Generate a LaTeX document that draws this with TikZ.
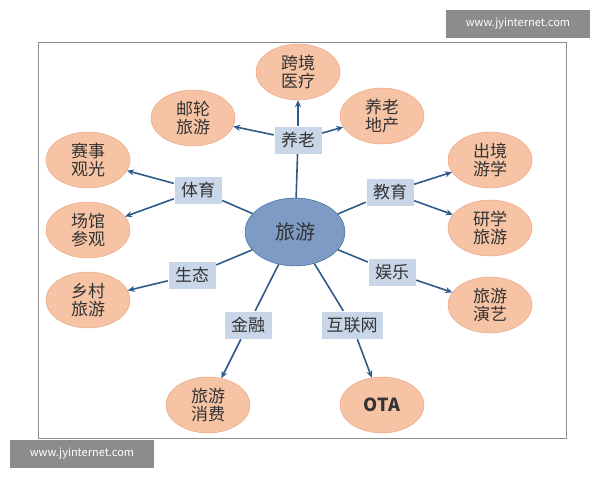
\documentclass[tikz,border=0pt]{standalone}
\usepackage{fontspec}
\setmainfont{Noto Sans CJK SC}
\usetikzlibrary{arrows.meta,shapes.geometric}
\definecolor{lineblue}{HTML}{2E5C8A}
\definecolor{leaffill}{HTML}{F6C3A4}
\definecolor{leafdraw}{HTML}{E8A07C}
\definecolor{catfill}{HTML}{C8D6E8}
\definecolor{hubfill}{HTML}{7E9BC6}
\tikzset{
 leaf/.style={ellipse,draw=leafdraw,fill=leaffill,minimum width=84pt,minimum height=56pt,inner sep=0pt,font=\fontsize{17}{18}\selectfont,align=center,text=black!80},
 cat/.style={draw=white,fill=catfill,minimum width=48pt,minimum height=28pt,inner sep=2pt,font=\fontsize{17}{18}\selectfont,text=black!80},
 link/.style={draw=lineblue,line width=1.6pt},
 arr/.style={link,-{Stealth[length=7pt,width=6pt]}},
 wm/.style={fill=black!45,text=white,minimum width=144pt,minimum height=28pt,font=\fontsize{11}{13}\selectfont}
}
\begin{document}
\begin{tikzpicture}[x=1pt,y=-1pt]
\useasboundingbox (0,0) rectangle (600,480);
\fill[white] (0,0) rectangle (600,480);
\draw[black!45,line width=1pt] (38,42) rectangle (566,438);
\node[wm] (w1) at (518,24) {www.jyinternet.com};
\node[wm] (w2) at (82,454) {www.jyinternet.com};
\node[ellipse,draw=lineblue,fill=hubfill,minimum width=100pt,minimum height=68pt,font=\fontsize{20}{22}\selectfont,text=black!80] (hub) at (295,232) {旅游};
\node[cat] (yl) at (298,140) {养老};
\node[cat] (ty) at (198,190) {体育};
\node[cat] (jy) at (390,192) {教育};
\node[cat] (st) at (192,275) {生态};
\node[cat] (yy) at (392,272) {娱乐};
\node[cat] (jr) at (248,325) {金融};
\node[cat,minimum width=62pt] (hl) at (352,325) {互联网};
\node[leaf] (a1) at (298,72) {跨境\\医疗};
\node[leaf] (a2) at (193,118) {邮轮\\旅游};
\node[leaf] (a3) at (382,116) {养老\\地产};
\node[leaf] (b1) at (88,160) {赛事\\观光};
\node[leaf] (b2) at (88,230) {场馆\\参观};
\node[leaf] (c1) at (490,160) {出境\\游学};
\node[leaf] (c2) at (490,228) {研学\\旅游};
\node[leaf] (d1) at (88,300) {乡村\\旅游};
\node[leaf] (e1) at (490,305) {旅游\\演艺};
\node[leaf] (f1) at (208,405) {旅游\\消费};
\node[leaf,font=\fontsize{18}{20}\selectfont\bfseries] (g1) at (382,405) {OTA};
\foreach \c in {yl,ty,jy,st,yy,jr,hl} \draw[link] (hub) -- (\c);
\draw[arr] (yl) -- (a1);
\draw[arr] (yl) -- (a2);
\draw[arr] (yl) -- (a3);
\draw[arr] (ty) -- (b1);
\draw[arr] (ty) -- (b2);
\draw[arr] (jy) -- (c1);
\draw[arr] (jy) -- (c2);
\draw[arr] (st) -- (d1);
\draw[arr] (yy) -- (e1);
\draw[arr] (jr) -- (f1);
\draw[arr] (hl) -- (g1);
\end{tikzpicture}
\end{document}
